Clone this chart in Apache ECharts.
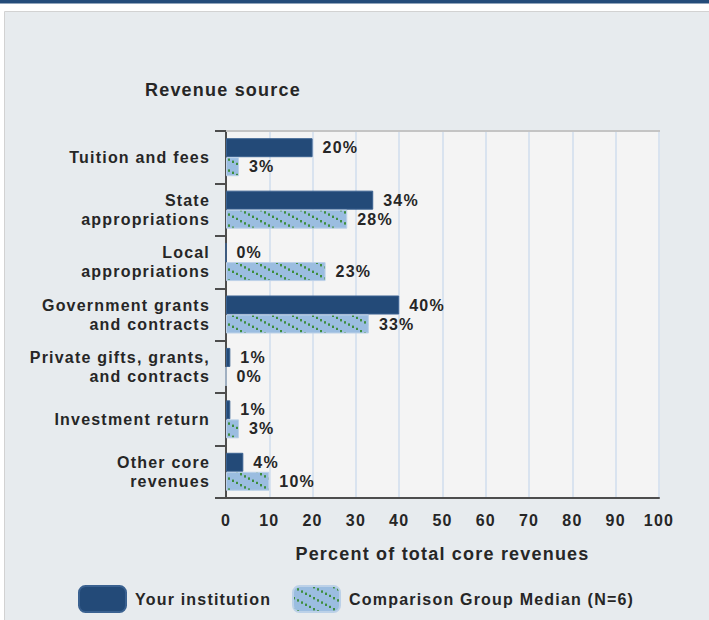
<!DOCTYPE html>
<html>
<head>
<meta charset="utf-8">
<title>Revenue source</title>
<script src="https://cdn.jsdelivr.net/npm/echarts@6/dist/echarts.min.js"></script>
<style>
  html, body { margin: 0; padding: 0; background: #fff; }
  /* svg text picks up the letter spacing of the original picture */
  #chart { width: 709px; height: 620px; letter-spacing: 1.2px; }
</style>
</head>
<body>
<div id="chart"></div>
<script>
// categories and values
const categories = [
  'Tuition and fees',
  'State\nappropriations',
  'Local\nappropriations',
  'Government grants\nand contracts',
  'Private gifts, grants,\nand contracts',
  'Investment return',
  'Other core\nrevenues'
]
const yourInstitution = [20, 34, 0, 40, 1, 1, 4]
const groupMedian = [3, 28, 23, 33, 0, 3, 10]
const xTicks = [0, 10, 20, 30, 40, 50, 60, 70, 80, 90, 100]

const fontFamily = '"Liberation Sans", Arial, sans-serif'
const textColor = '#262626'

// light blue fill with dotted green diagonals
const makeHatch = () => {
  const w = 20
  const h = 11
  const c = document.createElement('canvas')
  c.width = w
  c.height = h
  const ctx = c.getContext('2d')
  ctx.fillStyle = '#9bbde0'
  ctx.fillRect(0, 0, w, h)
  ctx.fillStyle = '#3e8e3e'
  for (let i = 0; i < 5; i++) {
    const x = i * 4
    const y = i * h / 5
    ctx.fillRect(x, y, 2, 2.4)
  }
  return c
}
const hatch = { image: makeHatch(), repeat: 'repeat' }

const chart = echarts.init(document.getElementById('chart'), null, { renderer: 'svg' })

const option = {
  animation: false,
  textStyle: { fontFamily: fontFamily, fontWeight: 'bold', color: textColor },
  graphic: [
    // page frame
    { type: 'rect', z: -10, shape: { x: 0, y: 0, width: 709, height: 3.5 }, style: { fill: '#244c7a' } },
    { type: 'rect', z: -10, shape: { x: 4.5, y: 11.5, width: 720, height: 620 }, style: { fill: '#e7ebee', stroke: '#d2d2d2', lineWidth: 1 } },
    // top edge of the plot area
    { type: 'line', z: 5, shape: { x1: 226, y1: 131, x2: 660, y2: 131 }, style: { stroke: '#c4c4c4', lineWidth: 2 } }
  ],
  title: {
    text: 'Revenue source',
    left: 145,
    top: 81,
    padding: 0,
    textStyle: { fontFamily: fontFamily, fontSize: 18, fontWeight: 'bold', color: textColor }
  },
  legend: {
    left: 78,
    top: 585,
    padding: 0,
    itemWidth: 47,
    itemHeight: 26,
    itemGap: 40,
    icon: 'roundRect',
    textStyle: { fontFamily: fontFamily, fontSize: 16, fontWeight: 'bold', color: textColor, padding: [0, 0, 0, 4] },
    data: ['Your institution', 'Comparison Group Median (N=6)']
  },
  grid: {
    left: 226,
    top: 131,
    width: 433,
    height: 367,
    show: true,
    backgroundColor: '#f4f4f4',
    borderWidth: 0
  },
  xAxis: {
    type: 'value',
    min: 0,
    max: 100,
    interval: 10,
    name: 'Percent of total core revenues',
    nameLocation: 'middle',
    nameGap: 47,
    nameTextStyle: { fontFamily: fontFamily, fontSize: 18, fontWeight: 'bold', color: textColor },
    axisLine: { show: true, lineStyle: { color: '#4d4d4d', width: 2 } },
    axisTick: { show: false },
    splitLine: { show: true, lineStyle: { color: '#d9e3ef', width: 2 } },
    axisLabel: {
      margin: 14,
      fontSize: 16,
      fontWeight: 'bold',
      color: textColor,
      formatter: (v) => xTicks.includes(v) ? String(v) : ''
    }
  },
  yAxis: {
    type: 'category',
    inverse: true,
    data: categories,
    axisLine: { show: true, lineStyle: { color: '#4d4d4d', width: 2 } },
    axisTick: { show: true, length: 11, lineStyle: { color: '#4d4d4d', width: 2 } },
    axisLabel: {
      margin: 16,
      fontSize: 16,
      lineHeight: 19,
      fontWeight: 'bold',
      color: textColor,
      align: 'right'
    }
  },
  series: [
    {
      name: 'Your institution',
      type: 'bar',
      data: yourInstitution,
      barWidth: 19,
      barGap: '0%',
      itemStyle: { color: '#234a78', borderColor: '#3a6190', borderWidth: 1 },
      label: {
        show: true,
        position: 'right',
        distance: 10,
        formatter: '{c}%',
        fontSize: 16,
        fontWeight: 'bold',
        color: textColor
      }
    },
    {
      name: 'Comparison Group Median (N=6)',
      type: 'bar',
      data: groupMedian,
      barWidth: 19,
      barGap: '0%',
      itemStyle: { color: hatch, borderColor: '#bcd1e8', borderWidth: 1 },
      label: {
        show: true,
        position: 'right',
        distance: 10,
        formatter: '{c}%',
        fontSize: 16,
        fontWeight: 'bold',
        color: textColor
      }
    }
  ]
}

chart.setOption(option)
</script>
</body>
</html>
